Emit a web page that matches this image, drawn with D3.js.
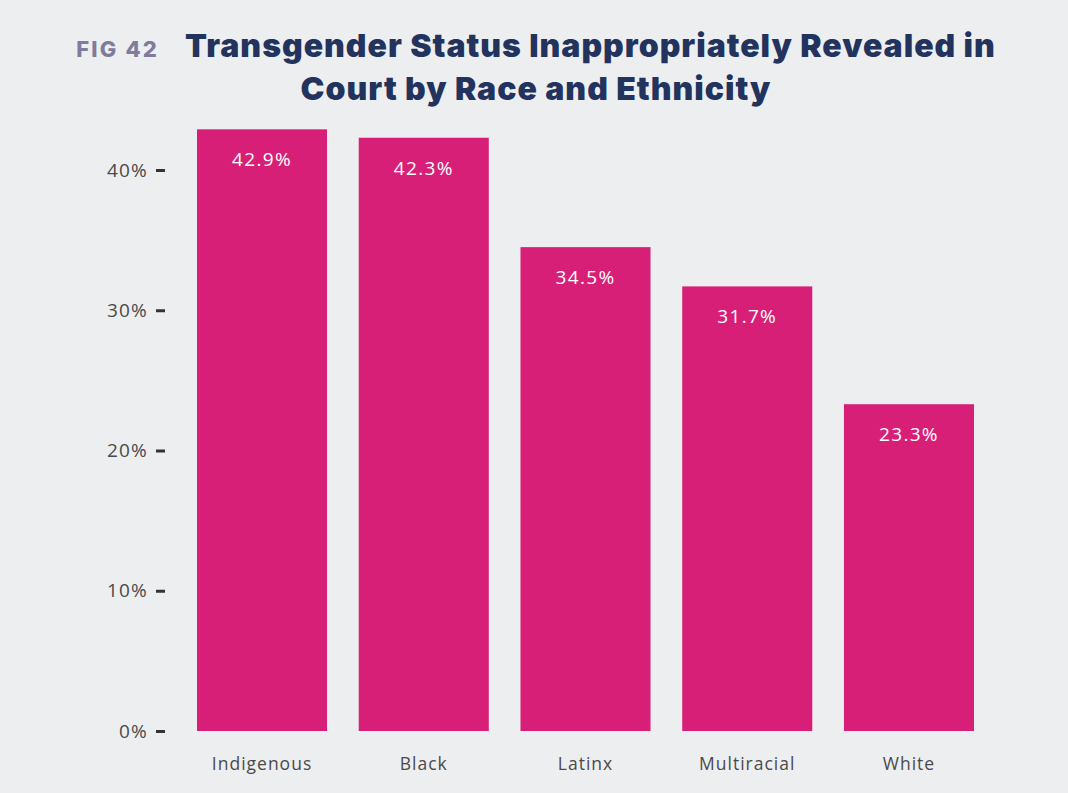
<!DOCTYPE html>
<html>
<head>
<meta charset="utf-8">
<script src="https://cdn.jsdelivr.net/npm/d3@7"></script>
<style>
  html, body { margin: 0; padding: 0; background: #edeef0; }
  svg { display: block; }
</style>
</head>
<body>
<svg id="chart" width="1068" height="793"></svg>
<script>
// Share of respondents whose transgender status was inappropriately revealed in court
const categories = ["Indigenous", "Black", "Latinx", "Multiracial", "White"];
const values = [42.9, 42.3, 34.5, 31.7, 23.3];
const tickValues = [0, 10, 20, 30, 40];
const figLabel = "FIG 42";
const titleLines = ["Transgender Status Inappropriately Revealed in", "Court by Race and Ethnicity"];

const W = 1068, H = 793;
const svg = d3.select("#chart");

svg.append("rect").attr("width", W).attr("height", H).attr("fill", "#edeef0");

const x = d3.scaleBand()
  .domain(categories)
  .range([197, 974])
  .paddingInner(0.196)
  .paddingOuter(0);

const y = d3.scaleLinear()
  .domain([0, 40])
  .range([731, 170]);

// Title block
const titleFont = "Inter, 'Liberation Sans', sans-serif";
const title = svg.append("text")
  .attr("text-anchor", "middle")
  .attr("font-family", titleFont)
  .attr("fill", "#22335e")
  .attr("font-weight", 900)
  .attr("font-size", 32);

const l1 = title.append("tspan").attr("x", 536).attr("y", 57);
l1.append("tspan")
  .attr("fill", "#7e7b9c")
  .attr("font-size", 22)
  .attr("font-weight", 800)
  .style("letter-spacing", "2.2px")
  .text(figLabel);
l1.append("tspan")
  .attr("dx", 26)
  .style("letter-spacing", "1px")
  .text(titleLines[0]);
title.append("tspan")
  .attr("x", 536).attr("y", 100)
  .style("letter-spacing", "1px")
  .text(titleLines[1]);

// Bars
svg.append("g")
  .selectAll("rect")
  .data(values)
  .join("rect")
  .attr("x", (d, i) => x(categories[i]))
  .attr("y", d => y(d))
  .attr("width", x.bandwidth())
  .attr("height", d => y(0) - y(d))
  .attr("fill", "#d81f77");

// Value labels inside bars
svg.append("g")
  .selectAll("text")
  .data(values)
  .join("text")
  .attr("x", (d, i) => x(categories[i]) + x.bandwidth() / 2)
  .attr("y", d => y(d) + 37)
  .attr("text-anchor", "middle")
  .attr("font-family", "'Open Sans', sans-serif")
  .attr("font-size", 19)
  .attr("fill", "#ffffff")
  .style("letter-spacing", "1.3px")
  .text(d => d.toFixed(1) + "%");

// Y axis
const yAxis = svg.append("g")
  .attr("transform", "translate(165,0)")
  .call(d3.axisLeft(y).tickValues(tickValues).tickFormat(d => d + "%").tickSize(9).tickPadding(8));
yAxis.select(".domain").remove();
yAxis.selectAll(".tick line").attr("stroke", "#333333").attr("stroke-width", 3);
yAxis.selectAll(".tick text")
  .attr("font-family", "'Open Sans', sans-serif")
  .attr("font-size", 19)
  .attr("fill", "#4a4a4a")
  .style("letter-spacing", "1.2px");

// X axis labels
const xAxis = svg.append("g")
  .attr("transform", "translate(0,731)")
  .call(d3.axisBottom(x).tickSize(0).tickPadding(27));
xAxis.select(".domain").remove();
xAxis.selectAll(".tick text")
  .attr("font-family", "'Open Sans', sans-serif")
  .attr("font-size", 17.5)
  .attr("fill", "#4a4a4a")
  .style("letter-spacing", "1px");
</script>
</body>
</html>
